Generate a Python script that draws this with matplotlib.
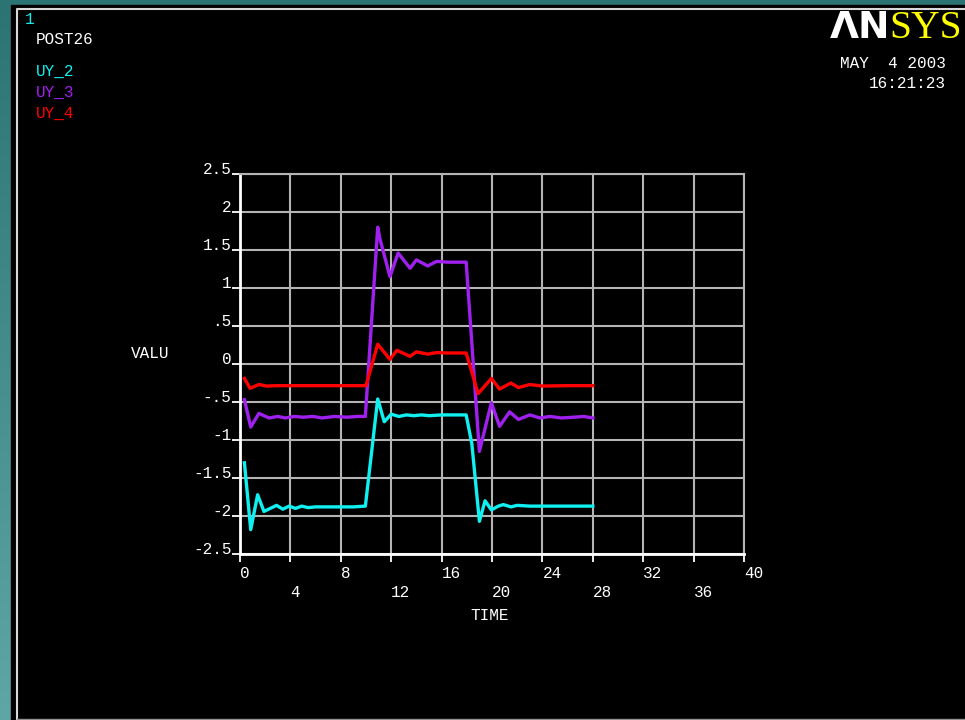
import matplotlib
matplotlib.use("Agg")
import matplotlib.pyplot as plt
from matplotlib.patches import Rectangle
import numpy as np

# UY_2 (cyan)
t_uy2 = [0.35, 0.85, 1.4, 1.9, 2.4, 2.9, 3.4, 3.9, 4.4, 4.9, 5.4, 6.0, 7.0, 8.0, 9.0, 9.95,
         10.93, 11.45, 12.0, 12.6, 13.2, 13.8, 14.4, 15.0, 16.0, 17.0, 17.95,
         18.4, 19.0, 19.45, 19.95, 20.5, 20.9, 21.5, 22.0, 23.0, 24.0, 25.0, 26.0, 27.0, 28.0]
uy2 = [-1.30, -2.18, -1.72, -1.94, -1.90, -1.86, -1.91, -1.87, -1.90, -1.87, -1.89, -1.88, -1.88, -1.88, -1.88, -1.87,
       -0.46, -0.76, -0.66, -0.69, -0.67, -0.68, -0.67, -0.68, -0.67, -0.67, -0.67,
       -1.05, -2.07, -1.80, -1.92, -1.87, -1.85, -1.88, -1.86, -1.87, -1.87, -1.87, -1.87, -1.87, -1.87]

# UY_3 (purple)
t_uy3 = [0.35, 0.85, 1.5, 2.3, 3.0, 3.6, 4.3, 5.0, 5.8, 6.5, 7.5, 8.5, 9.3, 9.95,
         10.93, 11.1, 11.9, 12.55, 13.5, 14.0, 14.9, 15.6, 16.5, 17.95,
         19.0, 19.95, 20.6, 21.4, 22.1, 23.0, 23.8, 24.6, 25.5, 26.5, 27.3, 28.0]
uy3 = [-0.47, -0.83, -0.65, -0.71, -0.69, -0.71, -0.69, -0.70, -0.69, -0.71, -0.69, -0.70, -0.69, -0.69,
       1.80, 1.65, 1.15, 1.46, 1.26, 1.37, 1.29, 1.35, 1.34, 1.34,
       -1.15, -0.51, -0.82, -0.63, -0.73, -0.67, -0.71, -0.69, -0.71, -0.70, -0.69, -0.71]

# UY_4 (red)
t_uy4 = [0.35, 0.8, 1.5, 2.1, 3.0, 5.0, 7.0, 9.0, 10.0,
         10.93, 11.9, 12.45, 13.5, 14.0, 14.9, 15.6, 16.5, 17.95,
         18.9, 19.95, 20.6, 21.5, 22.1, 23.0, 24.0, 26.0, 28.0]
uy4 = [-0.19, -0.32, -0.27, -0.29, -0.285, -0.285, -0.285, -0.285, -0.285,
       0.26, 0.06, 0.18, 0.10, 0.16, 0.13, 0.15, 0.145, 0.145,
       -0.39, -0.19, -0.33, -0.25, -0.31, -0.27, -0.29, -0.285, -0.285]

yticks = [2.5, 2, 1.5, 1, 0.5, 0, -0.5, -1, -1.5, -2, -2.5]
ytick_labels = ["2.5", "2", "1.5", "1", ".5", "0", "-.5", "-1", "-1.5", "-2", "-2.5"]
xticks_row1 = [0, 8, 16, 24, 32, 40]
xticks_row2 = [4, 12, 20, 28, 36]

CYAN = "#10f0f0"
PURPLE = "#a020f0"
RED = "#ff0000"
GRID = "#b4b4b4"
MONO = "Liberation Mono"
FS = 11.5

W, H = 965, 720
fig = plt.figure(figsize=(W / 100, H / 100), dpi=100)

# teal screen border + black graphics window
bg = fig.add_axes([0, 0, 1, 1])
bg.set_xlim(0, W)
bg.set_ylim(H, 0)
bg.axis("off")
grad = np.linspace(0, 1, 256).reshape(-1, 1)
cmap = matplotlib.colors.LinearSegmentedColormap.from_list("teal", ["#2c7474", "#5fa6a6"])
bg.imshow(grad, cmap=cmap, extent=[0, W, H, 0], aspect="auto")
bg.add_patch(Rectangle((11, 5), W - 11, H - 5, color="black"))
bg.plot([16.5, 16.5, W], [H - 1, 8.5, 8.5], color="#d8d8d8", lw=1.5)
bg.plot([16.5, W], [H - 1.5, H - 1.5], color="#909090", lw=1)

# header texts
fig.text(25 / W, 1 - 19 / H, "1", color=CYAN, family=MONO, fontsize=FS, va="center")
fig.text(36 / W, 1 - 40 / H, "POST26", color="white", family=MONO, fontsize=FS, va="center")
for name, col, yy in [("UY_2", CYAN, 71), ("UY_3", PURPLE, 92), ("UY_4", RED, 113)]:
    fig.text(36 / W, 1 - yy / H, name, color=col, family=MONO, fontsize=FS, va="center")

fig.text(890 / W, 1 - 28 / H, "ΛN", color="white", family="DejaVu Sans", weight="heavy",
         fontsize=27, ha="right", va="center")
fig.text(889 / W, 1 - 28 / H, "SYS", color="#ffff00", family="Liberation Serif",
         fontsize=28.5, ha="left", va="center")
fig.text(946 / W, 1 - 63 / H, "MAY  4 2003", color="white", family=MONO, fontsize=FS,
         ha="right", va="center")
fig.text(946 / W, 1 - 84 / H, "16:21:23", color="white", family=MONO, fontsize=FS,
         ha="right", va="center")

# plot area
left, right, top, bottom = 240, 744, 174, 554
ax = fig.add_axes([left / W, 1 - bottom / H, (right - left) / W, (bottom - top) / H])
ax.set_facecolor("black")
ax.set_xlim(0, 40)
ax.set_ylim(-2.5, 2.5)

ax.plot(t_uy2, uy2, color=CYAN, lw=2.4, zorder=3)
ax.plot(t_uy3, uy3, color=PURPLE, lw=2.4, zorder=3)
ax.plot(t_uy4, uy4, color=RED, lw=2.4, zorder=3)

ax.set_yticks(yticks)
ax.set_yticklabels(ytick_labels, family=MONO, fontsize=FS, color="white", va="baseline")
ax.set_xticks(xticks_row1)
ax.set_xticklabels([str(v) for v in xticks_row1], family=MONO, fontsize=FS, color="white", ha="left")
ax.set_xticks(xticks_row2, minor=True)
ax.set_xticklabels([str(v) for v in xticks_row2], minor=True, family=MONO, fontsize=FS,
                   color="white", ha="left")
ax.tick_params(axis="y", length=6, width=1.3, color="white", pad=0)
ax.tick_params(axis="x", which="major", length=6, width=1.3, color="white", pad=3)
ax.tick_params(axis="x", which="minor", length=6, width=1.3, color="white", pad=16)

ax.grid(True, which="both", color=GRID, lw=1.5)
for side in ["top", "right"]:
    ax.spines[side].set_color(GRID)
    ax.spines[side].set_linewidth(1.5)
for side in ["left", "bottom"]:
    ax.spines[side].set_color("white")
    ax.spines[side].set_linewidth(2)

fig.text(150 / W, 1 - 353 / H, "VALU", color="white", family=MONO, fontsize=FS, ha="center", va="center")
fig.text(490 / W, 1 - 615 / H, "TIME", color="white", family=MONO, fontsize=FS, ha="center", va="center")

fig.savefig("out.png", dpi=100, facecolor="black")
